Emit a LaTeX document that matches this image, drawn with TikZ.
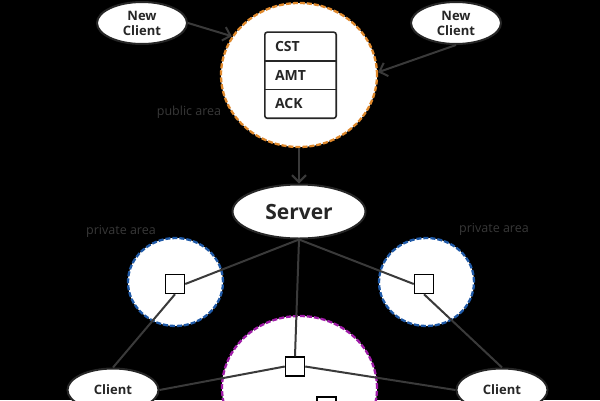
\documentclass[tikz,border=0pt]{standalone}
\usepackage{fontspec}
\setmainfont{Open Sans}
\usetikzlibrary{shapes.geometric,arrows.meta}
\definecolor{lin}{HTML}{3A3A3A}
\definecolor{lbl}{HTML}{383838}
\definecolor{orng}{HTML}{E0892C}
\definecolor{blu}{HTML}{1F5AA8}
\definecolor{purp}{HTML}{A01CA8}
\tikzset{
  area/.style={ellipse, fill=white, line width=2.3pt, dash pattern=on 5pt off 2pt, inner sep=0pt},
  oval/.style={ellipse, draw=black!85, line width=2pt, fill=white, inner sep=0pt, font=\bfseries\fontsize{13}{15}\selectfont, text=black!85, align=center},
  cell/.style={inner xsep=10pt, inner ysep=0pt, text width=51pt, minimum height=28.3pt, align=left, font=\bfseries\fontsize{14}{15}\selectfont, text=black!85},
  sq/.style={draw=black, fill=white, line width=1.5pt, minimum size=19pt, inner sep=0pt},
  conn/.style={draw=lin, line width=2pt},
  arr/.style={conn, -{Straight Barb[length=7pt,width=14pt,line width=2pt]}},
  lab/.style={text=lbl, font=\fontsize{12.5}{14}\selectfont}
}
\begin{document}
\begin{tikzpicture}[x=1pt,y=-1pt]
\fill[black] (0,0) rectangle (600,400);
\useasboundingbox (0,0) rectangle (600,400);
% areas
\node[area, draw=orng, minimum width=156pt, minimum height=144pt] (pub) at (299,75) {};
\node[area, draw=blu, minimum width=95pt, minimum height=88pt] (pl) at (175.5,282) {};
\node[area, draw=blu, minimum width=95pt, minimum height=88pt] (pr) at (426.5,282) {};
\node[area, draw=purp, minimum width=155pt, minimum height=144pt] (pc) at (299.5,388) {};
% stack
\node[cell] (cst) at (300.5,46.5) {CST};
\node[cell, anchor=north] (amt) at (cst.south) {AMT};
\node[cell, anchor=north] (ack) at (amt.south) {ACK};
\draw[black!85, line width=1.6pt, rounded corners=2.5pt] (cst.north west) rectangle (ack.south east);
\draw[black!85, line width=1.6pt] (cst.south west) -- (cst.south east);
\draw[black!85, line width=1.6pt] (amt.south west) -- (amt.south east);
% ovals
\node[oval, minimum width=90pt, minimum height=42pt] (nc1) at (142,23) {New\\Client};
\node[oval, minimum width=90pt, minimum height=42pt] (nc2) at (456,23) {New\\Client};
\node[oval, minimum width=133pt, minimum height=54pt, font=\bfseries\fontsize{21}{23}\selectfont] (srv) at (299,211.5) {Server};
\node[oval, minimum width=91pt, minimum height=43pt] (cl1) at (113,390) {Client};
\node[oval, minimum width=91pt, minimum height=43pt] (cl2) at (502,390) {Client};
% squares
\node[sq] (sq1) at (175,284) {};
\node[sq] (sq2) at (424,284) {};
\node[sq] (sq3) at (295,366.5) {};
\node[sq] (sq4) at (326.5,406.5) {};
% labels
\node[lab] (lpub) at (189,112) {public area};
\node[lab] (lpl) at (121,231) {private area};
\node[lab] (lpr) at (494,229) {private area};
% arrows
\draw[arr] (nc1.east) -- (pub.150);
\draw[arr] (nc2.south) -- (pub.2);
\draw[arr] (pub.south) -- (srv.north);
% connectors
\draw[conn] (srv.south) -- (sq1.east);
\draw[conn] (srv.south) -- (sq2.west);
\draw[conn] (srv.south) -- (sq3.north);
\draw[conn] (cl1.north) -- (sq1.south);
\draw[conn] (cl2.north) -- (sq2.south);
\draw[conn] (sq3.west) -- (cl1.east);
\draw[conn] (sq3.east) -- (cl2.west);
\end{tikzpicture}
\end{document}
